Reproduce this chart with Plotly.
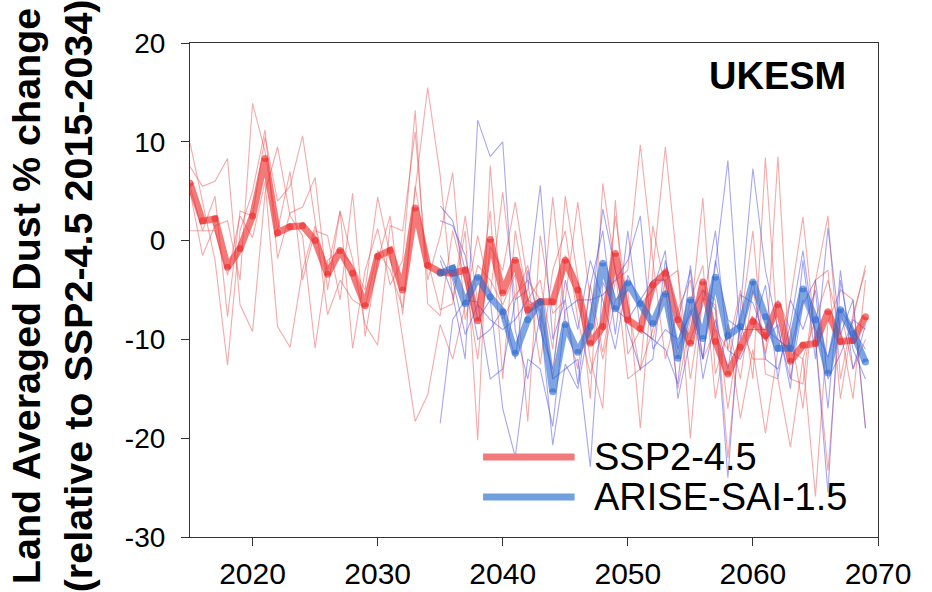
import plotly.graph_objects as go

# Years
years_ssp = list(range(2015, 2070))
years_arise = list(range(2035, 2070))

# SSP2-4.5 ensemble mean (% change)
ssp_mean = [5.8, 2.0, 2.2, -2.7, -0.8, 2.5, 8.3, 0.8, 1.4, 1.5,
            0.0, -3.4, -1.0, -3.3, -6.6, -1.6, -1.0, -5.0, 3.3, -2.5,
            -3.2, -3.3, -3.0, -8.1, 0.1, -5.3, -2.0, -7.0, -6.2, -6.2,
            -2.0, -5.0, -10.4, -8.7, -1.3, -8.0, -8.9, -4.5, -3.3, -8.0,
            -10.4, -4.2, -10.2, -13.5, -10.8, -8.2, -9.6, -6.5, -12.2, -10.6,
            -10.4, -7.2, -10.2, -10.1, -7.7]

# ARISE-SAI-1.5 ensemble mean (% change)
arise_mean = [-3.3, -2.8, -6.4, -3.7, -5.7, -7.2, -11.4, -8.0, -6.2, -15.3,
              -8.5, -11.3, -8.7, -2.3, -6.9, -4.3, -6.4, -8.4, -5.4, -11.9,
              -6.0, -9.9, -3.7, -9.6, -8.7, -4.2, -7.7, -10.9, -10.9, -4.9,
              -8.0, -13.4, -7.0, -9.4, -12.3]

# SSP2-4.5 individual ensemble members
ssp_m1 = [9.9, 4.0, -2.0, -12.6, 1.0, 5.0, 11.2, -1.8, 2.8, 3.4,
          6.4, -5.0, 3.0, -10.9, -3.0, 1.2, -4.5, -2.0, 13.2, -6.4,
          -7.6, 1.0, -4.0, -12.0, -0.6, -3.0, 3.9, -4.2, -12.5, -3.0,
          1.0, -8.0, -13.5, -9.0, 2.5, -6.5, -13.2, 1.5, -5.0, -12.0,
          -6.0, -2.5, -16.0, -8.5, -14.0, -5.0, -11.4, -6.0, -9.0, -17.0,
          -4.1, 2.5, -14.0, -7.5, -3.0]
ssp_m2 = [5.0, -1.5, 1.5, 2.0, -4.0, 13.9, 9.0, 1.0, 7.0, -4.0,
          1.0, 0.5, -6.0, 4.8, -9.7, -2.0, 2.5, -7.5, 5.1, 15.5,
          6.6, -6.0, 2.5, -6.3, 3.0, -14.0, 1.0, -6.0, -4.0, -11.0,
          4.5, -3.9, -12.0, -17.0, 4.1, -11.5, -9.0, -10.0, -4.0, -3.0,
          -14.0, -5.8, -6.5, -17.0, -8.5, 1.0, -13.5, -14.0, -20.9, -11.9,
          -8.0, -4.0, -9.0, -16.0, -4.0]
ssp_m3 = [7.5, 5.5, 6.0, 8.3, -6.5, -9.2, 4.8, 9.5, 2.5, 0.5,
          -10.9, -2.0, -1.0, -2.5, -5.0, 4.4, -1.5, -9.7, -18.3, -15.6,
          -8.5, -12.0, -6.5, 0.5, -5.5, 4.9, -6.0, -2.5, -9.0, 4.4,
          -8.0, -13.0, -4.5, -11.3, -4.1, -3.0, 9.7, -2.0, -12.0, -7.0,
          -4.0, -12.0, -9.0, -11.0, -5.0, -14.0, 8.4, -10.0, -11.1, -12.0,
          -25.9, -8.2, -5.0, -6.0, -19.0]
ssp_m4 = [1.0, 1.0, 1.0, -3.5, 2.5, 0.3, 6.0, -8.7, -10.8, -3.0,
          1.5, -3.0, 3.0, -1.9, -8.5, -10.6, 1.5, 1.0, 11.0, -4.0,
          0.5, 6.9, -8.0, -2.5, -4.0, -6.5, -3.4, -18.3, 0.5, -7.4,
          -6.0, 3.9, -6.0, -12.0, -6.0, -5.0, -19.0, -3.0, 9.5, -3.0,
          -20.0, -5.0, -6.0, -22.0, -8.5, -12.0, -12.0, 8.5, -14.0, -14.5,
          -4.0, -3.0, -16.0, -8.0, -2.5]
ssp_m5 = [5.5, 1.0, 4.5, -7.7, 3.0, 2.5, 10.5, 4.0, 5.5, 10.6,
          2.0, -7.5, -4.0, -6.0, -6.8, -1.0, -3.0, -6.8, 5.5, -2.0,
          -7.0, -6.4, 1.0, -20.2, 7.6, -7.9, -5.5, -4.0, -6.0, -14.0,
          -1.5, -4.0, -16.0, 5.8, -3.0, -14.0, -13.0, -9.0, -5.0, -15.0,
          -8.0, 4.3, -13.5, -9.0, -18.0, -11.0, -19.5, -11.0, -6.0, 2.4,
          -10.0, -23.3, -7.0, -13.0, -10.0]

# ARISE-SAI-1.5 individual ensemble members
arise_m1 = [3.5, 2.0, -3.0, -10.0, -9.0, -7.0, -12.0, -3.0, -9.0, -13.0,
            -4.0, -9.0, -2.0, -6.0, -11.0, -3.5, -6.5, -5.0, -1.0, -16.0,
            -10.0, -6.5, 1.0, -11.1, -12.0, -9.0, -4.5, -14.0, -6.0, -9.0,
            -5.0, -17.0, -3.0, -13.0, -8.5]
arise_m2 = [-2.0, -5.5, -12.0, 12.2, 8.5, 10.0, -9.1, -14.0, -7.6, -20.7,
            -12.5, -15.0, -8.0, 3.2, -3.0, -9.0, -13.0, -12.0, -2.0, -8.0,
            -3.0, -14.0, -8.0, -13.0, -5.5, -6.3, -10.0, -8.5, -15.0, -2.0,
            -12.0, 1.3, -9.5, -6.0, -19.0]
arise_m3 = [-18.5, -8.0, -6.0, -6.2, -14.0, -13.0, -6.0, -5.0, 5.6, -10.0,
            -6.0, -14.5, -4.6, 1.0, -9.5, 1.0, -9.0, -10.0, -11.0, -14.5,
            -2.5, -12.0, -2.5, 8.1, -10.0, -4.0, -12.0, -13.0, -8.5, -1.0,
            -10.0, -25.5, -4.0, -11.0, -14.0]
arise_m4 = [2.0, 1.5, -1.5, -8.0, -6.0, -17.0, -21.9, -12.0, -13.0, -18.8,
            -7.0, -6.0, -6.0, -5.5, -4.0, -2.0, 2.5, -11.0, -9.0, -10.0,
            -7.5, -5.0, -7.0, -24.0, -7.0, 7.3, -3.0, -9.0, -14.0, -6.5,
            -4.0, -14.0, -11.5, -8.0, -9.0]
arise_m5 = [-1.5, -4.0, -9.5, -6.5, -8.0, -9.0, -8.0, -6.0, -7.0, -14.0,
            -13.0, -12.0, -22.9, -4.2, -7.0, -8.0, -6.0, -4.0, -4.0, -11.0,
            -7.0, -12.0, -2.0, -8.0, -9.0, -9.0, -9.0, -10.0, -11.0, -6.0,
            -9.0, -11.8, -7.0, -9.0, -11.0]

series_names = ["SSP2-4.5", "ARISE-SAI-1.5"]
x_ticks = [2020, 2030, 2040, 2050, 2060, 2070]
y_ticks = [-30, -20, -10, 0, 10, 20]
y_tick_text = ["-30", "-20", "-10", "0", "10", "20"]

RED_THIN = "rgba(236,85,85,0.5)"
BLUE_THIN = "rgba(80,80,225,0.5)"
RED_THICK = "rgba(238,40,40,0.62)"
BLUE_THICK = "rgba(45,110,210,0.62)"
RED_KEY = "rgb(242,122,122)"
BLUE_KEY = "rgb(112,160,222)"
FONT = "Arial, Liberation Sans, sans-serif"

fig = go.Figure()

for m in [ssp_m1, ssp_m2, ssp_m3, ssp_m4, ssp_m5]:
    fig.add_trace(go.Scatter(x=years_ssp, y=m, mode="lines",
                             line=dict(color=RED_THIN, width=1.1),
                             showlegend=False, hoverinfo="skip"))
for m in [arise_m1, arise_m2, arise_m3, arise_m4, arise_m5]:
    fig.add_trace(go.Scatter(x=years_arise, y=m, mode="lines",
                             line=dict(color=BLUE_THIN, width=1.1),
                             showlegend=False, hoverinfo="skip"))

fig.add_trace(go.Scatter(x=years_ssp, y=ssp_mean, mode="lines+markers",
                         name=series_names[0],
                         line=dict(color=RED_THICK, width=7),
                         marker=dict(color=RED_THICK, size=7, line=dict(width=0)),
                         showlegend=False))
fig.add_trace(go.Scatter(x=years_arise, y=arise_mean, mode="lines+markers",
                         name=series_names[1],
                         line=dict(color=BLUE_THICK, width=7),
                         marker=dict(color=BLUE_THICK, size=7, line=dict(width=0)),
                         showlegend=False))

# Key drawn as long line samples with labels
key_rows = [(0.162, RED_KEY, series_names[0]), (0.081, BLUE_KEY, series_names[1])]
for ky, col, label in key_rows:
    fig.add_shape(type="line", xref="paper", yref="paper",
                  x0=0.426, x1=0.559, y0=ky, y1=ky,
                  line=dict(color=col, width=7))
    fig.add_annotation(xref="paper", yref="paper", x=0.584, y=ky,
                       xanchor="left", yanchor="middle", showarrow=False,
                       text=label, font=dict(family=FONT, size=38, color="black"))

fig.add_annotation(xref="paper", yref="paper", x=0.957, y=0.933,
                   xanchor="right", yanchor="middle", showarrow=False,
                   text="<b>UKESM</b>", font=dict(family=FONT, size=38, color="black"))

fig.add_annotation(xref="paper", yref="paper", x=-0.2, y=0.488,
                   xanchor="center", yanchor="middle", showarrow=False,
                   textangle=-90,
                   text="<b>Land Averaged Dust % change<br>(relative to SSP2-4.5 2015-2034)</b>",
                   font=dict(family=FONT, size=39.5, color="black"))

fig.update_xaxes(range=[2015, 2070], tickvals=x_ticks, ticks="outside", ticklen=8,
                 tickwidth=1, tickcolor="#333", showline=True, linecolor="#333",
                 linewidth=1.2, mirror=True, showgrid=False, zeroline=False,
                 tickfont=dict(family=FONT, size=30, color="black"),
                 ticklabelstandoff=2, automargin=False)
fig.update_yaxes(range=[-30, 20], tickvals=y_ticks, ticktext=y_tick_text,
                 ticks="outside", ticklen=8,
                 tickwidth=1, tickcolor="#333", showline=True, linecolor="#333",
                 linewidth=1.2, mirror=True, showgrid=False, zeroline=False,
                 tickfont=dict(family=FONT, size=28, color="black"),
                 ticklabelstandoff=10, automargin=False)

fig.update_layout(width=932, height=592,
                  margin=dict(l=190, r=54, t=43, b=55),
                  plot_bgcolor="white", paper_bgcolor="white",
                  showlegend=False)

fig.write_html("out.html")
